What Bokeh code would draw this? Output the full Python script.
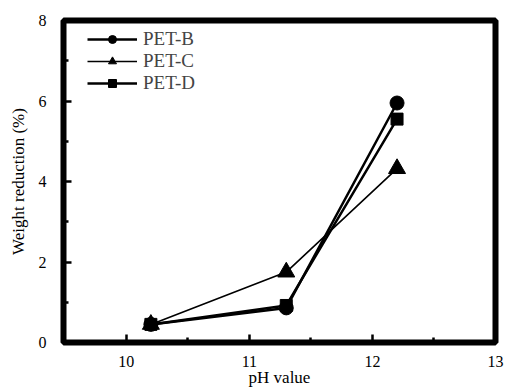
from bokeh.plotting import figure
from bokeh.models import FixedTicker, Range1d, Legend, LegendItem, Span
from bokeh.embed import file_html
from bokeh.resources import INLINE

ph = [10.2, 11.3, 12.2]
pet_b = [0.45, 0.86, 5.95]
pet_c = [0.45, 1.75, 4.32]
pet_d = [0.45, 0.92, 5.55]
x_ticks = [10, 11, 12, 13]
y_ticks = [0, 2, 4, 6, 8]
x_lo, x_hi = 9.49, 13.0
y_lo, y_hi = 0, 8

FONT = "Liberation Serif"

p = figure(width=507, height=389, output_backend="svg", toolbar_location=None,
           x_range=Range1d(x_lo, x_hi), y_range=Range1d(y_lo, y_hi))
p.min_border_left = 63
p.min_border_right = 12
p.min_border_top = 20
p.min_border_bottom = 45
p.xgrid.visible = False
p.ygrid.visible = False
p.outline_line_color = "black"
p.outline_line_width = 6
p.background_fill_color = "white"
p.border_fill_color = "white"

p.add_layout(Span(location=x_lo, dimension="height", line_color="black", line_width=5))
p.add_layout(Span(location=y_lo, dimension="width", line_color="black", line_width=5))

r1l = p.line(ph, pet_b, line_color="black", line_width=2.5)
r1m = p.scatter(ph, pet_b, marker="circle", size=14, color="black")
r2l = p.line(ph, pet_c, line_color="black", line_width=1.6)
r2m = p.scatter(ph, pet_c, marker="triangle", size=17, color="black")
r3l = p.line(ph, pet_d, line_color="black", line_width=2.5)
r3m = p.scatter(ph, pet_d, marker="square", size=12, color="black")

p.axis.axis_line_color = None
p.axis.major_tick_in = 8
p.axis.major_tick_out = 0
p.axis.minor_tick_in = 5
p.axis.minor_tick_out = 0
p.axis.major_tick_line_width = 2.5
p.axis.minor_tick_line_width = 2.5
p.axis.major_label_text_font = FONT
p.axis.major_label_text_font_size = "16px"
p.axis.major_label_text_color = "black"
p.axis.axis_label_text_font = FONT
p.axis.axis_label_text_font_size = "17px"
p.axis.axis_label_text_font_style = "normal"
p.axis.axis_label_text_color = "black"

p.xaxis.ticker = FixedTicker(ticks=x_ticks, minor_ticks=[10.5, 11.5, 12.5])
p.yaxis.ticker = FixedTicker(ticks=y_ticks, minor_ticks=[1, 3, 5, 7])
p.xaxis.axis_label = "pH value"
p.yaxis.axis_label = "Weight reduction (%)"
p.xaxis.major_label_standoff = 13
p.xaxis.axis_label_standoff = -2
p.yaxis.major_label_standoff = 17
p.yaxis.axis_label_standoff = 8

legend = Legend(items=[
    LegendItem(label="PET-B", renderers=[r1l, r1m]),
    LegendItem(label="PET-C", renderers=[r2l, r2m]),
    LegendItem(label="PET-D", renderers=[r3l, r3m]),
], location=(24, 248))
legend.border_line_color = None
legend.background_fill_alpha = 0
legend.label_text_font = FONT
legend.label_text_font_size = "19px"
legend.glyph_width = 50
legend.glyph_height = 20
legend.label_height = 20
legend.spacing = 0
legend.padding = 2
legend.margin = 0
legend.label_standoff = 6
p.add_layout(legend)

open("out.html", "w").write(file_html(p, INLINE))
